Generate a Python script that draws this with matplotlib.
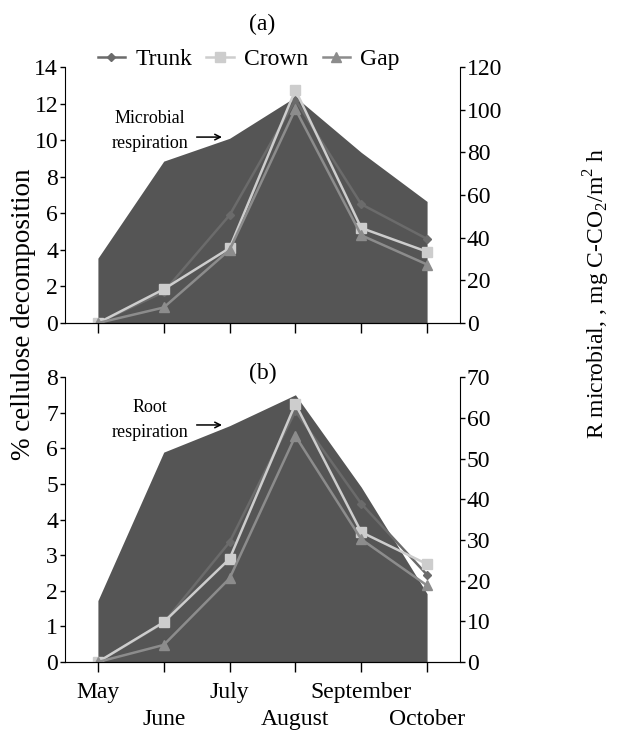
import numpy as np
import matplotlib.pyplot as plt

plt.rcParams['font.family'] = ['Liberation Serif', 'DejaVu Serif']
plt.rcParams['mathtext.fontset'] = 'custom'
plt.rcParams['mathtext.rm'] = 'Liberation Serif'

months = ['May', 'June', 'July', 'August', 'September', 'October']

# panel (a): cellulose decomposition, % (left axis)
trunk_a = [0, 1.7, 5.9, 12.2, 6.5, 4.6]
crown_a = [0, 1.85, 4.1, 12.75, 5.2, 3.9]
gap_a = [0, 0.85, 4.0, 11.7, 4.8, 3.2]
# microbial respiration, mg C-CO2/m2 h (right axis)
resp_a = [30.4, 75.9, 86.6, 106, 80, 57]

# panel (b)
trunk_b = [0, 1.1, 3.37, 7.05, 4.45, 2.45]
crown_b = [0, 1.12, 2.9, 7.25, 3.65, 2.75]
gap_b = [0, 0.48, 2.35, 6.35, 3.45, 2.15]
# root respiration
resp_b = [15.1, 51.6, 58.1, 65.7, 43, 16.8]

fill_col = '#555555'
trunk_col = '#6b6b6b'
crown_col = '#cdcdcd'
gap_col = '#8c8c8c'
fs = 17

fig = plt.figure(figsize=(6.31, 7.32), dpi=100)
ax_a = fig.add_axes([0.103, 0.5587, 0.626, 0.3497])
ax_b = fig.add_axes([0.103, 0.0956, 0.626, 0.389])

x = np.arange(len(months))


def panel(ax, trunk, crown, gap, resp, ymax, rmax, rstep, show_labels):
    ax2 = ax.twinx()
    ax2.fill_between(x, 0, resp, color=fill_col, lw=0)
    ax2.set_ylim(0, rmax)
    ax2.set_yticks(np.arange(0, rmax + 1, rstep))
    ax.set_zorder(ax2.get_zorder() + 1)
    ax.patch.set_visible(False)

    ax.plot(x, trunk, '-D', color=trunk_col, lw=1.8, ms=4.5, label='Trunk')
    ax.plot(x, crown, '-s', color=crown_col, lw=1.8, ms=6.5, label='Crown')
    ax.plot(x, gap, '-^', color=gap_col, lw=1.8, ms=6.5, label='Gap')

    ax.set_xlim(-0.5, 5.5)
    ax.set_ylim(0, ymax)
    ax.set_yticks(np.arange(0, ymax + 1, 2 if ymax > 10 else 1))
    # staggered month labels: even months on major ticks, odd ones lower on minor ticks
    ax.set_xticks(x[::2])
    ax.set_xticks(x[1::2], minor=True)
    if show_labels:
        ax.set_xticklabels(months[::2])
        ax.set_xticklabels(months[1::2], minor=True)
    else:
        ax.set_xticklabels([])
        ax.set_xticklabels([], minor=True)
    for a in (ax, ax2):
        a.spines['top'].set_visible(False)
        a.tick_params(axis='y', direction='out', length=3.5, width=1, labelsize=fs, pad=1.5)
    ax.tick_params(axis='x', which='major', direction='out', length=7, width=1,
                   labelsize=fs, pad=7.5)
    ax.tick_params(axis='x', which='minor', direction='out', length=7, width=1,
                   labelsize=fs, pad=27)
    ax2.spines['left'].set_visible(False)
    ax.spines['right'].set_visible(False)
    return ax2


panel(ax_a, trunk_a, crown_a, gap_a, resp_a, 14, 120, 20, False)
panel(ax_b, trunk_b, crown_b, gap_b, resp_b, 8, 70, 10, True)

ax_a.set_title('(a)', fontsize=fs, pad=27)
ax_b.text(0.5, 1.012, '(b)', transform=ax_b.transAxes, ha='center', va='center', fontsize=fs)

ax_a.legend(loc='lower center', bbox_to_anchor=(0.465, 0.95), ncol=3, frameon=False,
            fontsize=fs, handlelength=1.15, handletextpad=0.45, columnspacing=0.6,
            borderaxespad=0)

ax_a.text(0.79, 10.5, 'Microbial\nrespiration', fontsize=13, ha='center', va='center',
          linespacing=1.55)
ax_a.annotate('', xy=(1.885, 10.17), xytext=(1.5, 10.17),
              arrowprops=dict(arrowstyle='->', color='black', lw=1.1, shrinkA=0, shrinkB=0))
ax_b.text(0.79, 6.8, 'Root\nrespiration', fontsize=13, ha='center', va='center',
          linespacing=1.55)
ax_b.annotate('', xy=(1.885, 6.66), xytext=(1.5, 6.66),
              arrowprops=dict(arrowstyle='->', color='black', lw=1.1, shrinkA=0, shrinkB=0))

fig.text(0.038, 1 - 314 / 732, '% cellulose decomposition', rotation=90, ha='center',
         va='center', fontsize=19.5)
fig.text(0.946, 1 - 293 / 732, 'R microbial, , mg C-CO$_2$/m$^2$ h', rotation=90,
         ha='center', va='center', fontsize=17)

fig.savefig('out.png', dpi=100)
